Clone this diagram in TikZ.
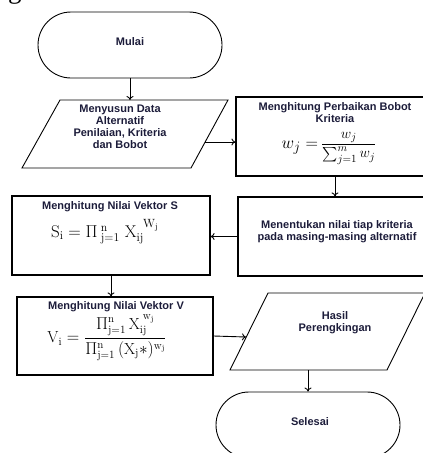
\documentclass[tikz,border=0pt]{standalone}
\usepackage{amsmath}
\usepackage{fontspec}
\newfontfamily\lsans{Liberation Sans}
\newfontfamily\lserif{Liberation Serif}
\usetikzlibrary{shapes.misc,arrows.meta}
\definecolor{txt}{RGB}{28,28,58}
\begin{document}
\begin{tikzpicture}[x=1pt,y=-1pt,
  lbl/.style={font=\lsans\bfseries\fontsize{11}{12}\selectfont, text=txt, align=center, inner sep=0pt},
  frm/.style={inner sep=0pt, text=black},
  term/.style={rounded rectangle, draw, line width=0.9pt, minimum width=184pt, minimum height=66pt, inner sep=0pt},
  io/.style={draw, line width=0.9pt, line join=miter},
  proc/.style={rectangle, draw, line width=1.2pt, inner sep=0pt},
  arr/.style={line width=0.9pt, -{To[length=4pt,width=7pt]}}]
\useasboundingbox (0,0) rectangle (423,453);
% cut-off heading
\node[anchor=base west, inner sep=0pt, font=\lserif\fontsize{27}{30}\selectfont] (head) at (-31,-1.5) {weighted method};
% shapes
\node[term] (mulai) at (130,45) {};
\draw[io] (60,100) -- (228,100) -- (191,168) -- (22,168) -- cycle;
\coordinate (p1top) at (130,100);
\coordinate (p1right) at (205,142);
\node[proc, minimum width=198pt, minimum height=79pt] (b1) at (335,136.5) {};
\node[proc, minimum width=198pt, minimum height=79pt] (b2) at (337,236.5) {};
\node[proc, minimum width=198pt, minimum height=79pt] (s) at (111,235.5) {};
\node[proc, minimum width=196pt, minimum height=78pt] (v) at (115,336) {};
\draw[io] (268,293) -- (425,293) -- (387,370) -- (230,370) -- cycle;
\coordinate (hleft) at (246,337);
\coordinate (hbottom) at (308,370);
\node[term] (selesai) at (308,425) {};
% texts
\node[lbl] (tmulai) at (130,42) {Mulai};
\node[lbl] (tp1) at (120,127) {Menyusun Data\\Alternatif\\Penilaian, Kriteria\\dan Bobot};
\node[lbl] (tb1) at (335,113) {Menghitung Perbaikan Bobot\\Kriteria};
\node[frm, font=\fontsize{19}{22}\selectfont] (fb1) at (329,148) {$w_j=$\,{\fontsize{15}{17}\selectfont$\dfrac{w_j}{\sum_{j=1}^{m}w_j}$}};
\node[lbl] (tb2) at (337,232) {Menentukan nilai tiap kriteria\\pada masing-masing alternatif};
\node[lbl] (ts) at (110,207) {Menghitung Nilai Vektor S};
\node[frm, font=\fontsize{17}{20}\selectfont] (fs) at (105,232) {$\mathrm{S}_{\mathrm{i}}=\Pi^{\;\mathrm{n}}_{\;\mathrm{j=1}}\;\mathrm{X}_{\mathrm{ij}}^{\;\;\mathrm{W}_{\mathrm{j}}}$};
\node[lbl] (tv) at (116,307) {Menghitung Nilai Vektor V};
\node[frm, font=\fontsize{16}{18}\selectfont] (fv) at (107,338) {$\mathrm{V}_{\mathrm{i}}=\dfrac{\Pi^{\mathrm{n}}_{\mathrm{j=1}}\,\mathrm{X}_{\mathrm{ij}}^{\;\mathrm{w}_{\mathrm{j}}}}{\Pi^{\mathrm{n}}_{\mathrm{j=1}}\,(\mathrm{X}_{\mathrm{j}}{*})^{\mathrm{w}_{\mathrm{j}}}}$};
\node[lbl] (thasil) at (335,323) {Hasil\\Perengkingan};
\node[lbl] (tselesai) at (310,422) {Selesai};
% connectors
\draw[arr] (mulai.south) -- (p1top);
\draw[arr] (p1right) -- (p1right -| b1.west);
\draw[arr] (b1.south) -- (b1.south |- b2.north);
\draw[arr] (b2.west) -- (b2.west -| s.east);
\draw[arr] (s.south) -- (s.south |- v.north);
\draw[arr] (v.east) -- (hleft);
\draw[arr] (hbottom) -- (selesai.north -| hbottom);
\end{tikzpicture}
\end{document}
